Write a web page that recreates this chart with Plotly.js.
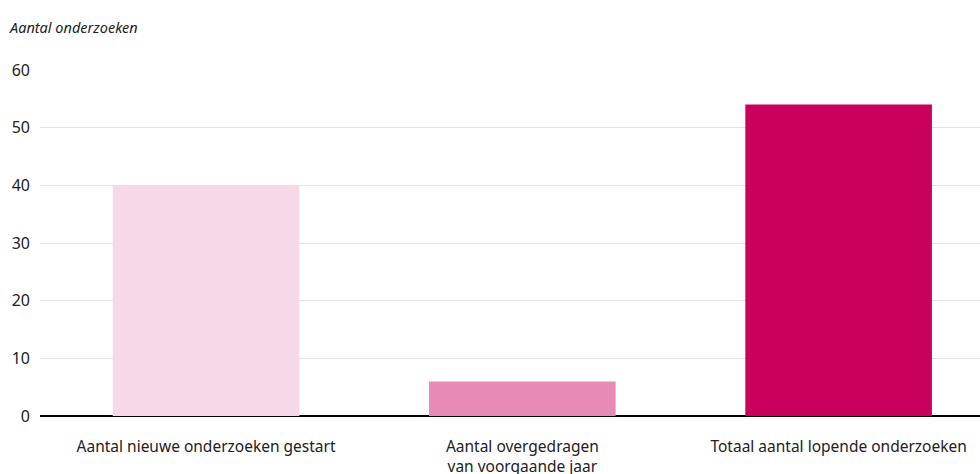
<!DOCTYPE html>
<html><head><meta charset="utf-8">
<script src="https://cdn.plot.ly/plotly-3.0.1.min.js"></script>
<style>body{margin:0;}#chart{width:980px;height:474px;}</style>
</head><body><div id="chart"></div>
<script>
const categories = ["Aantal nieuwe onderzoeken gestart", "Aantal overgedragen<br>van voorgaande jaar", "Totaal aantal lopende onderzoeken"];
const values = [40, 6, 54];
const barColors = ["#f6d8e8", "#e68bb5", "#ca005d"];
const yTickVals = [0, 10, 20, 30, 40, 50, 60];
const yTitle = "Aantal onderzoeken";

const font = "Noto Sans, Open Sans, sans-serif";
Plotly.newPlot("chart", [{
  type: "bar",
  x: categories,
  y: values,
  marker: {color: barColors},
  width: 0.59,
  hoverinfo: "none"
}], {
  width: 980, height: 474,
  margin: {l: 40, r: 0, t: 70, b: 58},
  paper_bgcolor: "#fff", plot_bgcolor: "#fff",
  font: {family: font, size: 16, color: "#222"},
  showlegend: false,
  xaxis: {
    type: "category",
    range: [-0.525, 2.447],
    showgrid: false, zeroline: false, showline: false,
    ticks: "", tickfont: {size: 15.5, color: "#222"},
    ticklabelstandoff: 19,
    fixedrange: true
  },
  yaxis: {
    range: [0, 60],
    tickvals: yTickVals,
    showgrid: true, gridcolor: "#e3e3e3", gridwidth: 1,
    zeroline: true, zerolinecolor: "#000", zerolinewidth: 1.5,
    showline: false, ticks: "",
    ticklabelstandoff: 9,
    tickfont: {size: 16, color: "#222"},
    fixedrange: true
  },
  annotations: [{
    text: "<i>" + yTitle + "</i>",
    xref: "paper", yref: "paper",
    x: 0, y: 1, xshift: -33, yshift: 43,
    xanchor: "left", yanchor: "middle",
    showarrow: false,
    font: {family: font, size: 14.5, color: "#222"}
  }]
}, {displayModeBar: false, staticPlot: true});
</script></body></html>
